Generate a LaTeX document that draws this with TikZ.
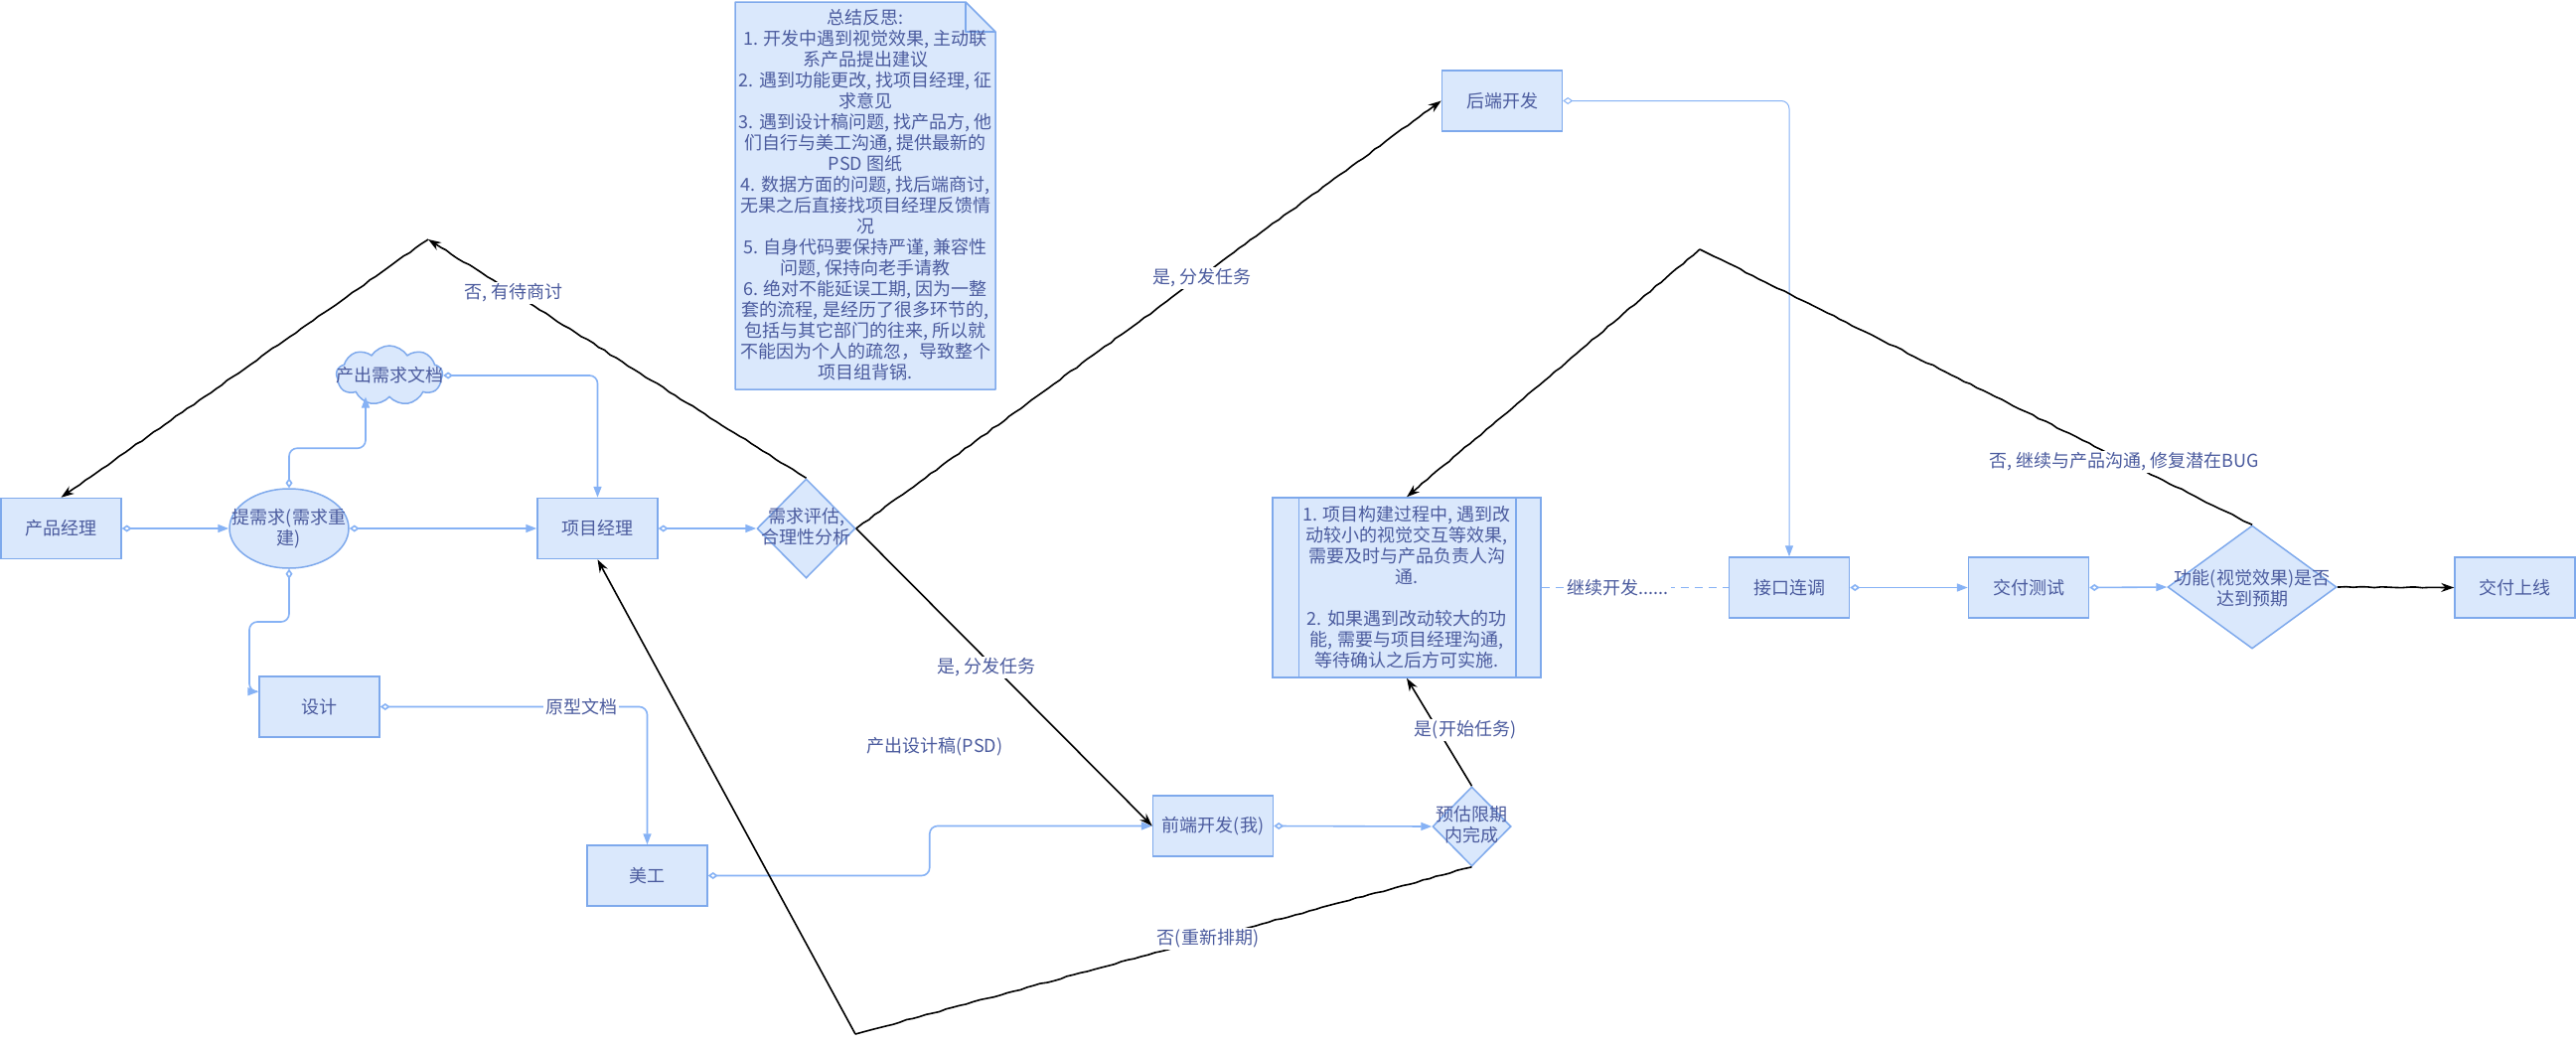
\documentclass[tikz,border=0pt]{standalone}
\usepackage{fontspec}
\setmainfont{Noto Sans CJK SC}
\usetikzlibrary{arrows.meta,shapes.geometric,shapes.symbols,calc,decorations.pathmorphing}
\definecolor{bfill}{HTML}{DAE8FC}
\definecolor{bstroke}{HTML}{7EA9EC}
\definecolor{lblue}{HTML}{86B2F5}
\definecolor{tcol}{HTML}{4B5B9E}
\begin{document}
\begin{tikzpicture}[x=1pt,y=-1pt,
  font=\fontsize{18}{21}\selectfont,
  box/.style={draw=bstroke, fill=bfill, line width=1.5pt, minimum width=121pt, minimum height=61pt, inner sep=2pt, align=center, text=tcol},
  shp/.style={draw=bstroke, fill=bfill, line width=1.5pt, inner sep=0pt},
  txt/.style={text=tcol, align=center, inner sep=1pt},
  lbl/.style={text=tcol, fill=white, inner sep=2pt, align=center},
  conn/.style={draw=lblue, line width=1.6pt, rounded corners=8pt, arrows={Diamond[fill=white,length=10pt,width=7pt]-Triangle[length=11pt,width=8pt]}},
  sketch/.style={decorate, decoration={random steps, segment length=7pt, amplitude=0.6pt, pre length=2pt, post length=16pt}},
  blk/.style={draw=black, line width=1.6pt, arrows={-Stealth[length=13pt,width=9pt]}},
  blkline/.style={draw=black, line width=1.6pt}
]
\pgfmathsetseed{7}
\fill[white] (0,0) rectangle (2593,1052);
\useasboundingbox (0,0) rectangle (2593,1052);

% ---------- summary note ----------
\coordinate (sumNW) at (740,2);
\coordinate (sumSE) at (1002,392);
\filldraw[draw=bstroke, fill=bfill, line width=1.5pt, line join=round]
  (sumNW) -- ($(sumNW -| sumSE)+(-30,0)$) -- ($(sumNW -| sumSE)+(0,30)$) -- (sumSE) -- (sumNW |- sumSE) -- cycle;
\draw[draw=bstroke, line width=1.5pt, line join=round]
  ($(sumNW -| sumSE)+(-30,0)$) -- ($(sumNW -| sumSE)+(-30,30)$) -- ($(sumNW -| sumSE)+(0,30)$);
\node[txt] (summary) at (871,196) {总结反思:\\
1. 开发中遇到视觉效果, 主动联\\
系产品提出建议\\
2. 遇到功能更改, 找项目经理, 征\\
求意见\\
3. 遇到设计稿问题, 找产品方, 他\\
们自行与美工沟通, 提供最新的\\
PSD 图纸\\
4. 数据方面的问题, 找后端商讨,\\
无果之后直接找项目经理反馈情\\
况\\
5. 自身代码要保持严谨, 兼容性\\
问题, 保持向老手请教\\
6. 绝对不能延误工期, 因为一整\\
套的流程, 是经历了很多环节的,\\
包括与其它部门的往来, 所以就\\
不能因为个人的疏忽，导致整个\\
项目组背锅.};

% ---------- nodes ----------
\node[box] (pm) at (61.5,532) {产品经理};
\node[shp, ellipse, minimum width=120pt, minimum height=80pt] (req) at (291,532) {};
\node[shp, cloud, cloud puffs=9, cloud puff arc=115, cloud ignores aspect, minimum width=107pt, minimum height=60pt] (cloud) at (392,378) {};
\node[box] (xm) at (601.5,532) {项目经理};
\node[box] (design) at (321.5,711.5) {设计};
\node[box] (art) at (651.5,881.5) {美工};
\node[shp, diamond, minimum width=99pt, minimum height=100pt] (eval) at (811.5,532) {};
\node[box] (fe) at (1221,831.5) {前端开发(我)};
\node[shp, diamond, minimum width=79pt, minimum height=80pt] (est) at (1481.5,832) {};
\node[box] (be) at (1512,101.5) {后端开发};
\node[box] (api) at (1801,591.5) {接口连调};
\node[box] (test) at (2042,591.5) {交付测试};
\node[shp, diamond, minimum width=170pt, minimum height=124pt] (func) at (2267,591) {};
\node[box] (online) at (2531.5,591.5) {交付上线};
\node[box, minimum width=270pt, minimum height=181pt] (proc) at (1416,591.5) {1. 项目构建过程中, 遇到改\\
动较小的视觉交互等效果,\\
需要及时与产品负责人沟\\
通.\\
\mbox{}\\
2. 如果遇到改动较大的功\\
能, 需要与项目经理沟通,\\
等待确认之后方可实施.};
\draw[draw=bstroke, line width=1.5pt] ($(proc.north west)+(27,0)$) -- ($(proc.south west)+(27,0)$);
\draw[draw=bstroke, line width=1.5pt] ($(proc.north east)+(-26,0)$) -- ($(proc.south east)+(-26,0)$);

% shape texts
\node[txt] (reqt) at (req.center) {提需求(需求重\\建)};
\node[txt] (cloudt) at (cloud.center) {产出需求文档};
\node[txt] (evalt) at (811.5,530) {需求评估,\\合理性分析};
\node[txt] (estt) at (1481.5,830) {预估限期\\内完成};
\node[txt] (funct) at (2267,592) {功能(视觉效果)是否\\达到预期};

% ---------- blue connectors ----------
\draw[conn] (pm.east) -- (req.west);
\draw[conn] (req.east) -- (xm.west);
\draw[conn] (req.north) -- ++(0,-40) -| ($(cloud.south)+(-24,-1)$);
\draw[conn] (req.south) |- (251,626) |- ($(design.north west)+(0,16)$);
\draw[conn] (cloud.east) -| (xm.north);
\draw[conn] (xm.east) -- (eval.west);
\draw[conn] (design.east) -| (art.north);
\node[lbl] (proto) at (585,711.5) {原型文档};
\draw[conn] (art.east) -- ++(223,0) |- (fe.west);
\draw[conn] (fe.east) -- (est.west);
\draw[conn, line width=1pt] (be.east) -| (api.north);
\draw[draw=lblue, line width=1.6pt, dash pattern=on 8pt off 6pt] (proc.east) -- node[lbl, pos=0.41] (cont) {继续开发......} (api.west);
\draw[conn] (api.east) -- (test.west);
\draw[conn] (test.east) -- (func.west);

% ---------- black connectors ----------
\coordinate (p1) at (431,241);
\coordinate (p2) at (1711,251);
\coordinate (p3) at (861,1041);
\draw[blk, sketch] (eval.north) -- (p1);
\draw[blk, sketch] (p1) -- (pm.north);
\draw[blk, sketch] (eval.east) -- (be.west);
\draw[blk] (eval.east) -- (fe.west);
\draw[blkline, sketch] (est.south) -- (p3);
\draw[blk] (p3) -- (xm.south);
\draw[blk] (est.north) -- (proc.south);
\draw[blkline, sketch] (func.north) -- (p2);
\draw[blk, sketch] (p2) -- (proc.north);
\draw[blk, sketch] (func.east) -- (online.west);

% ---------- labels ----------
\node[lbl] (l1) at (517,295) {否, 有待商讨};
\node[lbl] (l2) at (1210,280) {是, 分发任务};
\node[lbl] (l3) at (993,672) {是, 分发任务};
\node[txt] (l4) at (941,752) {产出设计稿(PSD)};
\node[lbl] (l5) at (1216,945) {否(重新排期)};
\node[lbl] (l6) at (1475,735) {是(开始任务)};
\node[lbl] (l7) at (2138,465) {否, 继续与产品沟通, 修复潜在BUG};
\end{tikzpicture}
\end{document}
